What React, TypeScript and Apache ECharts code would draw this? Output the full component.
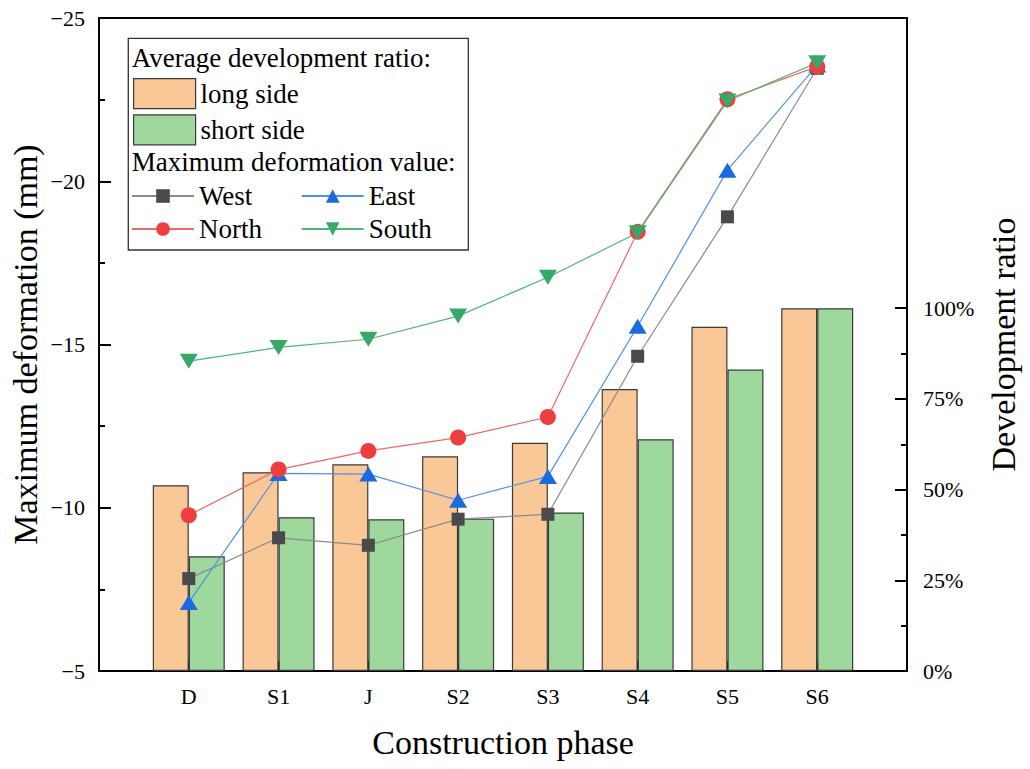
import { useEffect, useRef } from "react";
import * as echarts from "echarts";

// construction phases on the x axis
const phases = ["D", "S1", "J", "S2", "S3", "S4", "S5", "S6"];

// average development ratio (%), right axis
const longSide = [51.2, 54.8, 57.0, 59.2, 62.9, 77.7, 94.9, 100];
const shortSide = [31.6, 42.4, 41.8, 42.0, 43.7, 63.9, 83.1, 100];

// maximum deformation (mm), left axis
const west = [-7.83, -9.08, -8.85, -9.65, -9.8, -14.64, -18.91, -23.46];
const east = [-7.1, -11.05, -11.03, -10.23, -10.96, -15.56, -20.34, -23.56];
const north = [-9.77, -11.17, -11.74, -12.15, -12.78, -18.45, -22.51, -23.51];
const south = [-14.49, -14.91, -15.16, -15.87, -17.06, -18.42, -22.46, -23.63];

// right axis ticks (only drawn up to 100%)
const ratioTicks = [0, 25, 50, 75, 100];
const ratioMinorTicks = [12.5, 37.5, 62.5, 87.5];

const FONT = '"Liberation Serif", "Times New Roman", serif';
const AXIS_STYLE = { color: "#000", width: 2 };
const NAME_STYLE = { fontSize: 34, fontFamily: FONT, color: "#000" };

export default function App() {
  const chartRef = useRef<HTMLDivElement>(null);

  useEffect(() => {
    if (!chartRef.current) return;
    const chart = echarts.init(chartRef.current, null, { renderer: "svg" });

    // one empty slot each side so the axis spans 0..9 like the original
    const axisCats = ["padL", ...phases, "padR"];
    const pair = (vals: number[]) => phases.map((p, i) => [p, vals[i]]);

    const lineSeries = (
      name: string,
      vals: number[],
      lineColor: string,
      markColor: string,
      symbol: string,
      size: number | number[]
    ) => ({
      name,
      type: "line",
      yAxisIndex: 0,
      data: pair(vals),
      symbol,
      symbolSize: size,
      lineStyle: { color: lineColor, width: 1.2 },
      itemStyle: { color: markColor, borderWidth: 0 },
      z: 3,
    });

    const legendText = { fontSize: 27, fontFamily: FONT, color: "#000" };

    const option: any = {
      animation: false,
      textStyle: { fontFamily: FONT },
      grid: {
        left: 99,
        right: 123,
        top: 18,
        bottom: 98,
        show: true,
        borderColor: "#000",
        borderWidth: 2,
        containLabel: false,
        outerBoundsMode: "none",
      },
      xAxis: {
        type: "category",
        data: axisCats,
        boundaryGap: false,
        axisLine: { lineStyle: AXIS_STYLE },
        axisTick: { inside: true, length: 10, interval: 0, lineStyle: AXIS_STYLE },
        axisLabel: {
          interval: 0,
          margin: 14,
          fontSize: 22,
          color: "#000",
          fontFamily: FONT,
          formatter: (v: string) => (phases.includes(v) ? v : ""),
        },
        splitLine: { show: false },
        name: "Construction phase",
        nameLocation: "middle",
        nameGap: 54,
        nameMoveOverlap: false,
        nameTextStyle: NAME_STYLE,
      },
      yAxis: [
        {
          type: "value",
          position: "left",
          min: -25,
          max: -5,
          interval: 5,
          inverse: true,
          axisLine: { show: true, lineStyle: AXIS_STYLE },
          axisTick: { show: true, inside: true, length: 12, lineStyle: AXIS_STYLE },
          minorTick: { show: true, splitNumber: 2, length: 6, lineStyle: AXIS_STYLE },
          axisLabel: {
            margin: 14,
            fontSize: 22,
            color: "#000",
            fontFamily: FONT,
            formatter: (v: number) => (v < 0 ? "\u2212" + Math.abs(v) : String(v)),
          },
          splitLine: { show: false },
          name: "Maximum deformation (mm)",
          nameLocation: "middle",
          nameGap: 57,
          nameMoveOverlap: false,
          nameTextStyle: NAME_STYLE,
        },
        {
          type: "value",
          position: "right",
          min: 0,
          max: 180,
          interval: 25,
          axisLine: { show: true, lineStyle: AXIS_STYLE },
          axisTick: {
            show: true,
            inside: true,
            length: 12,
            customValues: ratioTicks,
            lineStyle: AXIS_STYLE,
          },
          axisLabel: {
            customValues: ratioTicks,
            formatter: "{value}%",
            margin: 16,
            fontSize: 22,
            color: "#000",
            fontFamily: FONT,
          },
          splitLine: { show: false },
          name: "Development ratio",
          nameLocation: "middle",
          nameRotate: 90,
          nameGap: 79,
          nameMoveOverlap: false,
          nameTextStyle: NAME_STYLE,
        },
        {
          // minor ticks of the right axis
          type: "value",
          position: "right",
          min: 0,
          max: 180,
          interval: 25,
          axisLine: { show: false },
          axisTick: {
            show: true,
            inside: true,
            length: 6,
            customValues: ratioMinorTicks,
            lineStyle: AXIS_STYLE,
          },
          axisLabel: { show: false },
          splitLine: { show: false },
        },
      ],
      legend: [
        {
          data: ["long side", "short side"],
          orient: "vertical",
          left: 133,
          top: 78,
          padding: 0,
          itemWidth: 62,
          itemHeight: 30,
          itemGap: 5,
          icon: "rect",
          selectedMode: false,
          textStyle: legendText,
          itemStyle: { borderColor: "#3a3a3a", borderWidth: 1.2 },
        },
        {
          data: ["West", "North"],
          orient: "vertical",
          left: 131,
          top: 182.5,
          padding: 0,
          itemWidth: 62,
          itemHeight: 17,
          itemGap: 6,
          selectedMode: false,
          textStyle: legendText,
          itemStyle: { borderWidth: 0 },
        },
        {
          data: ["East", "South"],
          orient: "vertical",
          left: 300.7,
          top: 182.5,
          padding: 0,
          itemWidth: 62,
          itemHeight: 17,
          itemGap: 6,
          selectedMode: false,
          textStyle: legendText,
          itemStyle: { borderWidth: 0 },
        },
      ],
      graphic: [
        {
          type: "rect",
          z: 1,
          shape: { x: 128.3, y: 38.3, width: 340, height: 211.7 },
          style: { fill: "#fff", stroke: "#333", lineWidth: 1.3 },
        },
        {
          type: "text",
          z: 5,
          x: 131.7,
          y: 58,
          style: {
            text: "Average development ratio:",
            font: `27px ${FONT}`,
            fill: "#000",
            verticalAlign: "middle",
            textVerticalAlign: "middle",
          },
        },
        {
          type: "text",
          z: 5,
          x: 131.7,
          y: 161.6,
          style: {
            text: "Maximum deformation value:",
            font: `27px ${FONT}`,
            fill: "#000",
            verticalAlign: "middle",
            textVerticalAlign: "middle",
          },
        },
      ],
      series: [
        {
          name: "long side",
          type: "bar",
          yAxisIndex: 1,
          data: pair(longSide),
          barWidth: 36,
          barGap: "0%",
          itemStyle: { color: "#FAC897", borderColor: "#3a3a3a", borderWidth: 1.2 },
        },
        {
          name: "short side",
          type: "bar",
          yAxisIndex: 1,
          data: pair(shortSide),
          barWidth: 36,
          barGap: "0%",
          itemStyle: { color: "#9ED89D", borderColor: "#3a3a3a", borderWidth: 1.2 },
        },
        lineSeries("West", west, "#8a8a8a", "#4a4a4a", "rect", 13),
        lineSeries("East", east, "#4f90e8", "#1a6be0", "triangle", [18, 15]),
        lineSeries("North", north, "#f06868", "#ee3e3e", "circle", 16),
        lineSeries("South", south, "#4cb878", "#36a868", "path://M0,0L18,0L9,15Z", [18, 15]),
      ],
    };

    chart.setOption(option);
    return () => chart.dispose();
  }, []);

  return (
    <div
      ref={chartRef}
      style={{ position: "fixed", left: 0, top: 0, width: 1030, height: 769, background: "#fff" }}
    />
  );
}
